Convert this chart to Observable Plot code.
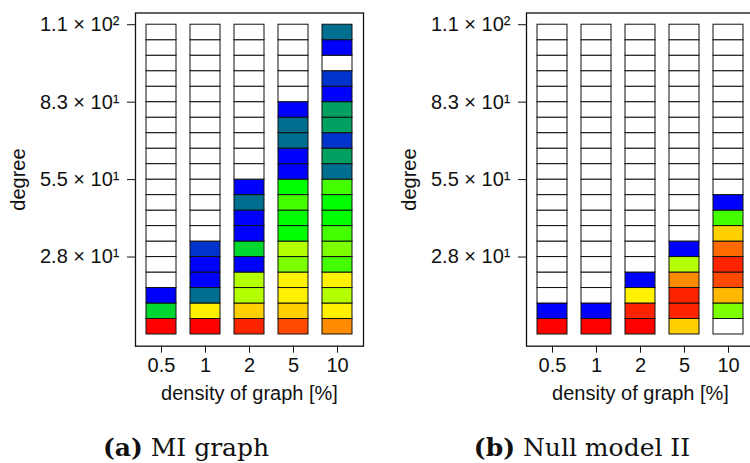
<!DOCTYPE html>
<html><head><meta charset="utf-8">
<script src="https://cdn.jsdelivr.net/npm/d3@7"></script>
<script src="https://cdn.jsdelivr.net/npm/@observablehq/plot@0.6"></script>
<style>
body{margin:0;background:#fff;}
#wrap{position:relative;width:750px;height:463px;overflow:hidden;background:#fff;}
.panel{position:absolute;top:0;}
.cap{position:absolute;top:435px;font-family:"DejaVu Serif",serif;font-size:25px;line-height:25px;white-space:nowrap;transform:translateX(-50%);color:#111;}
.cap b{font-weight:bold;}
</style></head><body>
<div id="wrap"></div>
<script>
// categories (x) and axis ticks
const densities = ["0.5", "1", "2", "5", "10"];
const degreeTicks = [110, 82.5, 55, 27.5];
const degreeTickLabels = ["1.1 × 10²", "8.3 × 10¹", "5.5 × 10¹", "2.8 × 10¹"];
const degreeMax = 110;
const binsPerColumn = 20;

// colour classes (index -> colour), -1 = empty (white)
const colorLevels = [-1, 0, 1, 2, 3, 4, 5, 6, 7, 8, 9, 10, 11, 12, 13, 14, 15, 16];
const palette = ["#ffffff",
  "#ff0000", "#ff2400", "#ff4800", "#ff6a00", "#ff8c00", "#ffb800", "#ffd000", "#fff200",
  "#b4ff00", "#7cff00", "#44ff00", "#00ff00", "#00d830", "#00a060", "#006e8f", "#0033cc", "#0000ff"];

// class of each degree bin, bottom to top (missing bins are empty)
const miGraph = {
  "0.5": [0, 12, 16],
  "1":   [0, 7, 14, 16, 16, 15],
  "2":   [1, 6, 8, 8, 16, 12, 16, 16, 14, 16],
  "5":   [2, 6, 7, 7, 9, 8, 11, 11, 10, 11, 16, 16, 14, 14, 16],
  "10":  [4, 7, 8, 7, 10, 9, 10, 11, 11, 10, 14, 13, 15, 13, 13, 16, 15, -1, 16, 14]
};
const nullModel = {
  "0.5": [0, 16],
  "1":   [0, 16],
  "2":   [0, 1, 7, 16],
  "5":   [6, 1, 1, 4, 8, 16],
  "10":  [-1, 9, 5, 2, 1, 3, 6, 10, 16]
};

const binWidth = degreeMax / binsPerColumn;

function cellsOf(series) {
  const out = [];
  for (const d of densities) {
    const arr = series[d];
    for (let i = 0; i < binsPerColumn; i++) {
      out.push({density: d, lo: i * binWidth, hi: (i + 1) * binWidth, level: i < arr.length ? arr[i] : -1});
    }
  }
  return out;
}

function panel(series) {
  return Plot.plot({
    width: 390,
    height: 410,
    marginLeft: 135,
    marginRight: 27,
    marginTop: 12.5,
    marginBottom: 64.3,
    style: {fontFamily: "'Liberation Sans', Arial, sans-serif", fontSize: "20px", background: "transparent", color: "#111"},
    x: {type: "band", domain: densities, paddingInner: 0.325, paddingOuter: 0.196},
    y: {domain: [-4.16, 114.16]},
    color: {type: "ordinal", domain: colorLevels, range: palette},
    marks: [
      Plot.barY(cellsOf(series), {x: "density", y1: "lo", y2: "hi", fill: "level", stroke: "#111", strokeWidth: 1}),
      Plot.frame({stroke: "#111", strokeWidth: 1.3}),
      Plot.axisY({ticks: degreeTicks, tickFormat: (v) => degreeTickLabels[degreeTicks.indexOf(v)], tickSize: 8, tickPadding: 8,
        fontSize: 20, label: "degree", labelAnchor: "center", labelArrow: "none", labelOffset: 125}),
      Plot.axisX({tickSize: 7, tickPadding: 5, fontSize: 20, label: null}),
      Plot.text(["density of graph [%]"], {frameAnchor: "bottom", dy: 47, fontSize: 20, lineAnchor: "middle"})
    ]
  });
}

const wrap = document.getElementById("wrap");
const p1 = panel(miGraph);
p1.classList.add("panel"); p1.style.left = "0px";
const p2 = panel(nullModel);
p2.classList.add("panel"); p2.style.left = "391px";
wrap.appendChild(p1);
wrap.appendChild(p2);

const c1 = document.createElement("div");
c1.className = "cap"; c1.style.left = "186px";
c1.innerHTML = "<b>(a)</b> MI graph";
const c2 = document.createElement("div");
c2.className = "cap"; c2.style.left = "582px";
c2.innerHTML = "<b>(b)</b> Null model II";
wrap.appendChild(c1);
wrap.appendChild(c2);
</script>
</body></html>
